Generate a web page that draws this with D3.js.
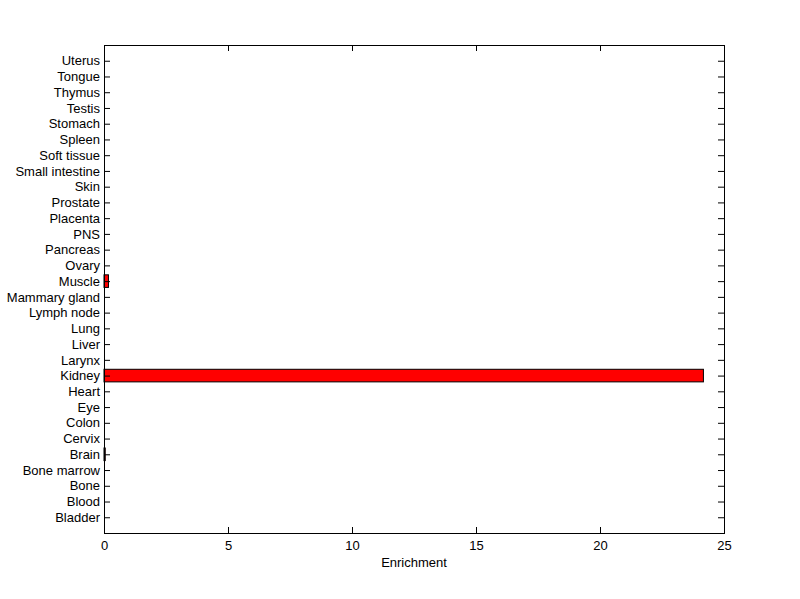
<!DOCTYPE html>
<html><head><meta charset="utf-8">
<script src="https://cdn.jsdelivr.net/npm/d3@7"></script>
<style>body{margin:0;background:#fff}svg{display:block}text{font-family:"Liberation Sans",Arial,sans-serif}</style>
</head><body>
<script>
const categories = ["Bladder","Blood","Bone","Bone marrow","Brain","Cervix","Colon","Eye","Heart","Kidney","Larynx","Liver","Lung","Lymph node","Mammary gland","Muscle","Ovary","Pancreas","PNS","Placenta","Prostate","Skin","Small intestine","Soft tissue","Spleen","Stomach","Testis","Thymus","Tongue","Uterus"];
const values = [0,0,0,0,0.05,0,0,0,0,24.17,0,0,0,0,0,0.18,0,0,0,0,0,0,0,0,0,0,0,0,0,0];
const xTicks = [0,5,10,15,20,25];
const xLabel = "Enrichment";

const W=800,H=599, L=104,R=724,T=45,B=533;
const svg=d3.select("body").append("svg").attr("width",W).attr("height",H);
const x=d3.scaleLinear().domain([0,25]).range([L,R]);
const y=d3.scaleLinear().domain([0,categories.length+1]).range([B,T]);
const step=y(0)-y(1), bh=step*0.8;

svg.append("g").selectAll("rect").data(values.map((v,i)=>({v,i}))).join("rect")
  .filter(d=>d.v>0)
  .attr("x",x(0)).attr("y",d=>y(d.i+1)-bh/2).attr("width",d=>x(d.v)-x(0)).attr("height",bh)
  .attr("fill","#ff0000").attr("stroke","#000").attr("stroke-width",1);

const fs="13px";
const yl=d3.axisLeft(y).tickValues(d3.range(1,categories.length+1)).tickFormat(d=>categories[d-1]).tickSize(-6).tickPadding(4);
const gl=svg.append("g").attr("transform",`translate(${L},0)`).call(yl);
const yr=d3.axisRight(y).tickValues(d3.range(1,categories.length+1)).tickFormat("").tickSize(-6);
const gr=svg.append("g").attr("transform",`translate(${R},0)`).call(yr);
const xb=d3.axisBottom(x).tickValues(xTicks).tickFormat(d3.format("d")).tickSize(-6).tickPadding(8);
const gb=svg.append("g").attr("transform",`translate(0,${B})`).call(xb);
const xt=d3.axisTop(x).tickValues(xTicks).tickFormat("").tickSize(-6);
const gt=svg.append("g").attr("transform",`translate(0,${T})`).call(xt);
[gl,gr,gb,gt].forEach(g=>{g.select(".domain").remove();g.selectAll("line").attr("stroke","#000");g.selectAll("text").attr("fill","#000").style("font-size",fs).style("font-family",'"Liberation Sans",Arial,sans-serif');});
gb.selectAll("text").attr("dy","0.71em");
svg.append("rect").attr("x",L).attr("y",T).attr("width",R-L).attr("height",B-T).attr("fill","none").attr("stroke","#000").attr("stroke-width",1).attr("shape-rendering","crispEdges");
svg.append("text").attr("x",(L+R)/2).attr("y",567).attr("text-anchor","middle").style("font-size","13px").text(xLabel);
</script></body></html>
